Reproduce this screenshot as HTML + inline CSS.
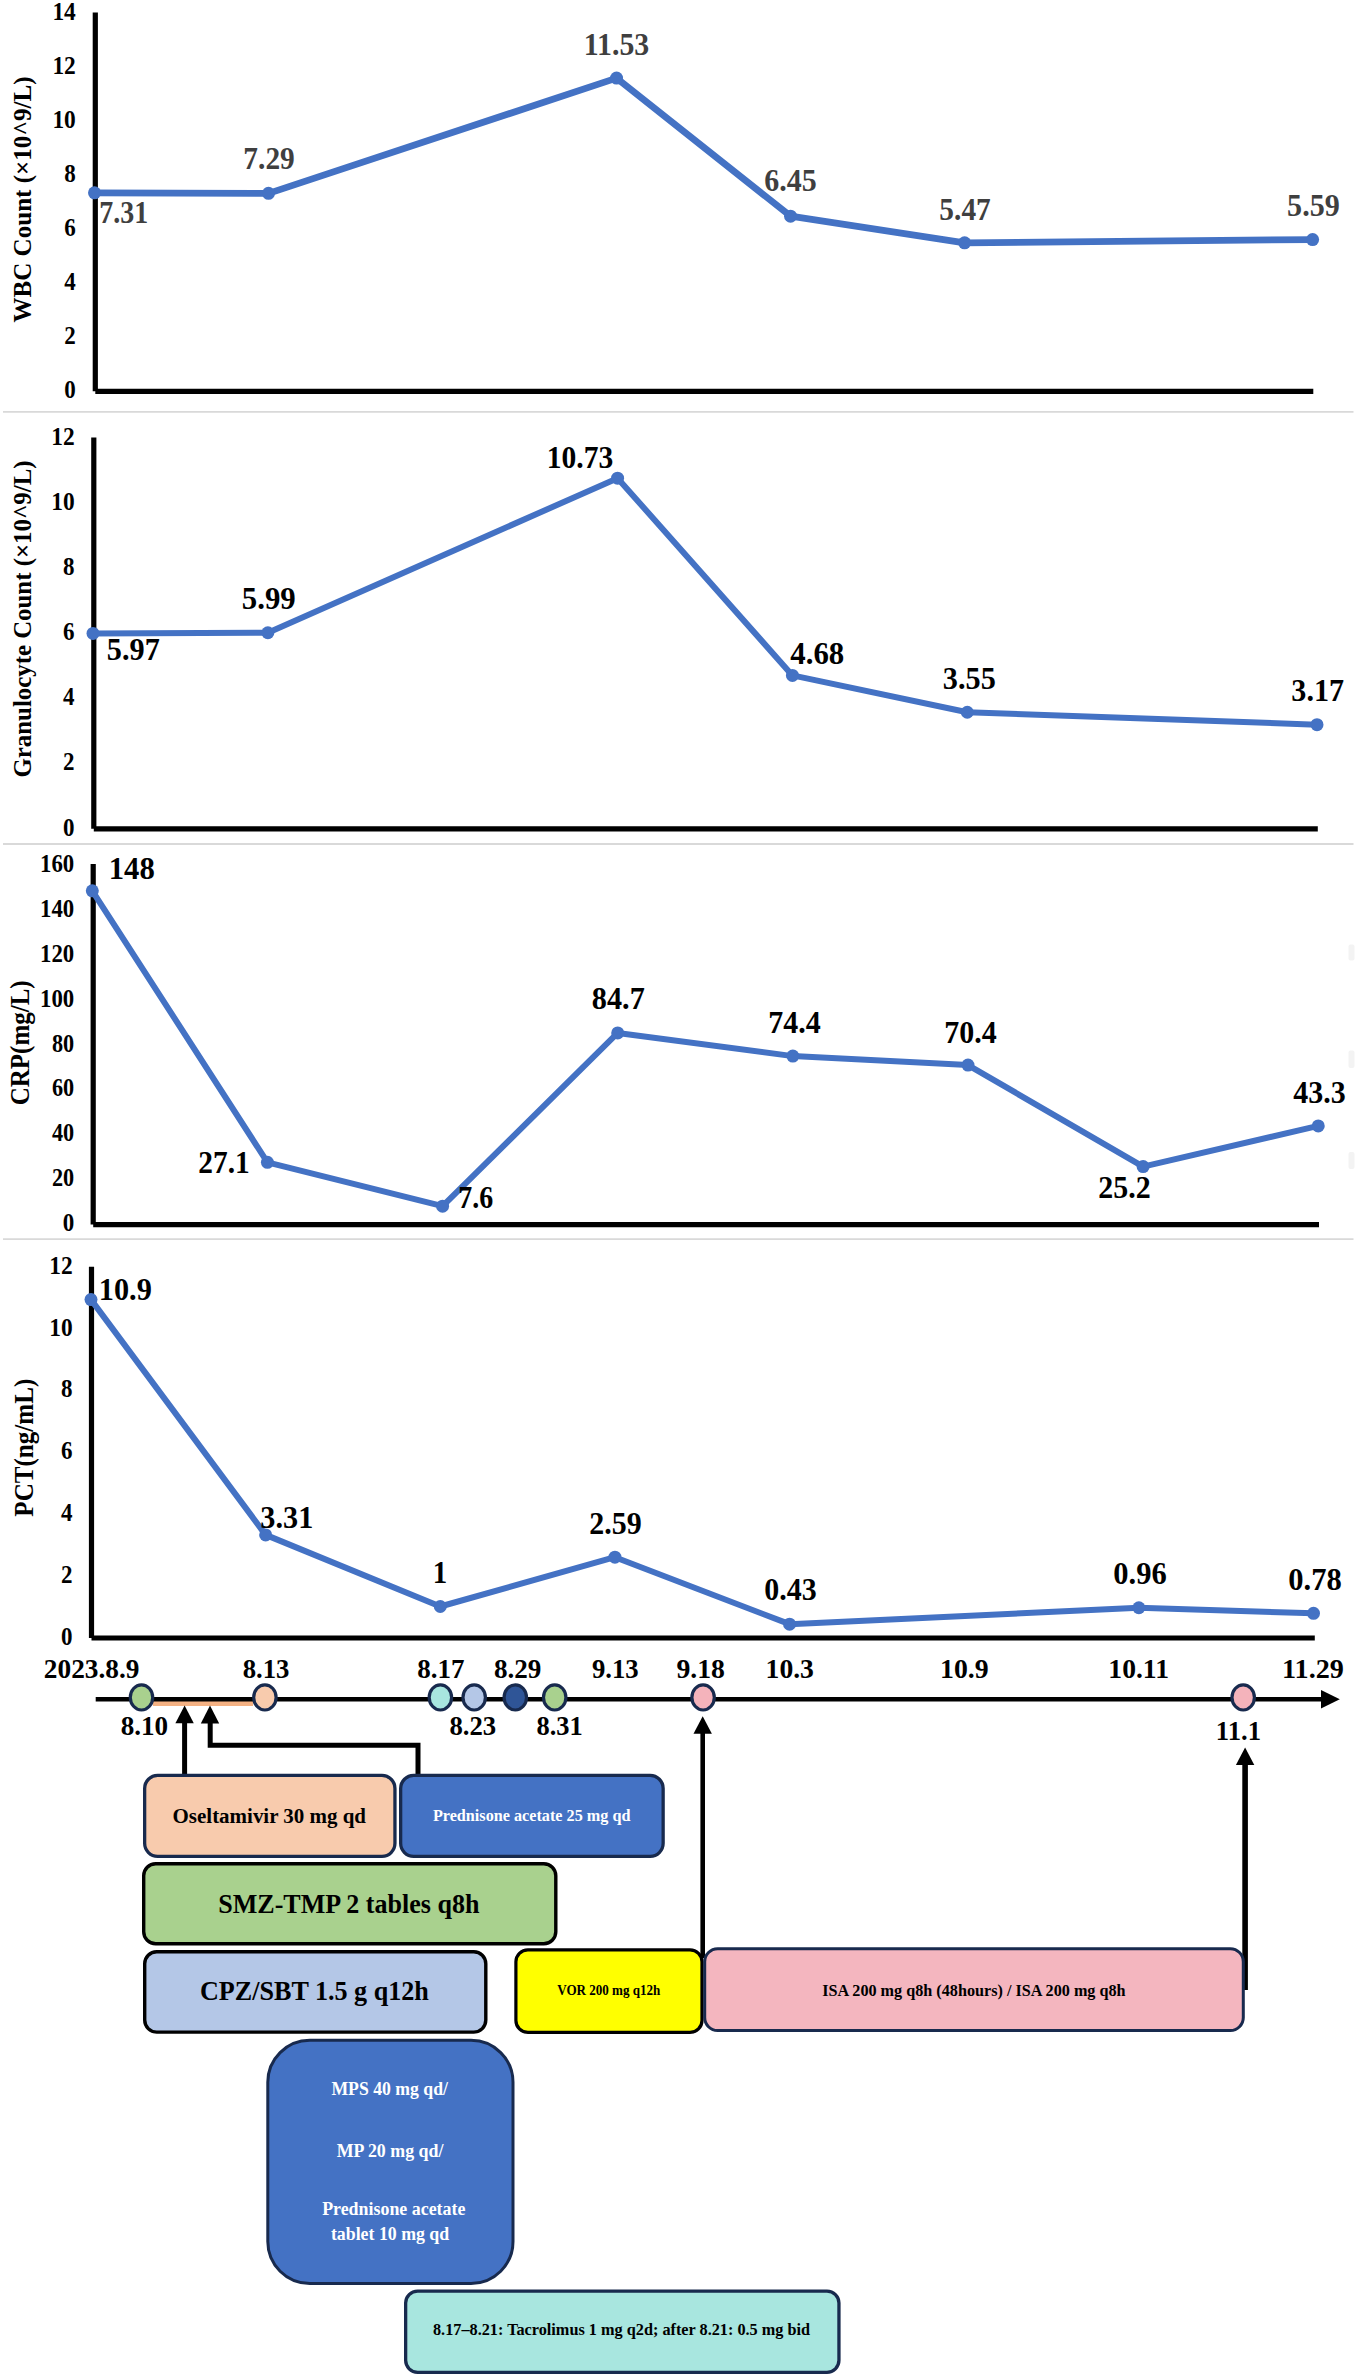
<!DOCTYPE html>
<html lang="en"><head><meta charset="utf-8"><title>Clinical course</title>
<style>html,body{margin:0;padding:0;background:#fff}svg{display:block}</style></head>
<body>
<svg width="1359" height="2379" viewBox="0 0 1359 2379" font-family="'Liberation Serif', serif" font-weight="bold">
<rect width="1359" height="2379" fill="#fff"/>
<path d="M3 411.8H1353.5" stroke="#d9d9d9" stroke-width="1.8" fill="none"/>
<path d="M3 844H1353.5" stroke="#d9d9d9" stroke-width="1.8" fill="none"/>
<path d="M3 1239.1H1353.5" stroke="#d9d9d9" stroke-width="1.8" fill="none"/>
<rect x="1348.5" y="944.6" width="6" height="15.9" rx="2" fill="#f3f3f3"/>
<rect x="1348.5" y="1050.5" width="6" height="17.5" rx="2" fill="#f3f3f3"/>
<rect x="1348.5" y="1152" width="6" height="17.0" rx="2" fill="#f3f3f3"/>
<path d="M95.30 12.60V391.30" stroke="#000" stroke-width="5.2" fill="none"/>
<path d="M95.30 391.30H1313.30" stroke="#000" stroke-width="5.2" fill="none"/>
<text x="64.31" y="397.70" font-size="24.5" fill="#000" textLength="11.50" lengthAdjust="spacingAndGlyphs">0</text>
<text x="64.31" y="343.70" font-size="24.5" fill="#000" textLength="11.50" lengthAdjust="spacingAndGlyphs">2</text>
<text x="64.31" y="289.70" font-size="24.5" fill="#000" textLength="11.50" lengthAdjust="spacingAndGlyphs">4</text>
<text x="64.31" y="235.70" font-size="24.5" fill="#000" textLength="11.50" lengthAdjust="spacingAndGlyphs">6</text>
<text x="64.31" y="181.70" font-size="24.5" fill="#000" textLength="11.50" lengthAdjust="spacingAndGlyphs">8</text>
<text x="52.39" y="127.70" font-size="24.5" fill="#000" textLength="23.43" lengthAdjust="spacingAndGlyphs">10</text>
<text x="52.39" y="73.70" font-size="24.5" fill="#000" textLength="23.43" lengthAdjust="spacingAndGlyphs">12</text>
<text x="52.39" y="19.70" font-size="24.5" fill="#000" textLength="23.43" lengthAdjust="spacingAndGlyphs">14</text>
<text transform="translate(31.40 199.50) rotate(-90)" font-size="26" text-anchor="middle" textLength="246" lengthAdjust="spacingAndGlyphs">WBC Count (×10^9/L)</text>
<path d="M94.50 192.81 L268.51 193.36 L616.54 78.11 L790.56 216.19 L964.57 242.83 L1312.60 239.56" stroke="#4472c4" stroke-width="6.8" fill="none" stroke-linejoin="round" stroke-linecap="round"/>
<circle cx="94.50" cy="192.81" r="6.5" fill="#4472c4"/>
<circle cx="268.51" cy="193.36" r="6.5" fill="#4472c4"/>
<circle cx="616.54" cy="78.11" r="6.5" fill="#4472c4"/>
<circle cx="790.56" cy="216.19" r="6.5" fill="#4472c4"/>
<circle cx="964.57" cy="242.83" r="6.5" fill="#4472c4"/>
<circle cx="1312.60" cy="239.56" r="6.5" fill="#4472c4"/>
<text x="99.37" y="222.50" font-size="31.4" fill="#3f3f3f" textLength="48.91" lengthAdjust="spacingAndGlyphs">7.31</text>
<text x="243.37" y="169.00" font-size="31.4" fill="#3f3f3f" textLength="51.41" lengthAdjust="spacingAndGlyphs">7.29</text>
<text x="583.80" y="55.00" font-size="31.4" fill="#3f3f3f" textLength="65.48" lengthAdjust="spacingAndGlyphs">11.53</text>
<text x="764.37" y="191.00" font-size="31.4" fill="#3f3f3f" textLength="52.41" lengthAdjust="spacingAndGlyphs">6.45</text>
<text x="939.37" y="220.00" font-size="31.4" fill="#3f3f3f" textLength="51.41" lengthAdjust="spacingAndGlyphs">5.47</text>
<text x="1287.12" y="216.25" font-size="31.4" fill="#3f3f3f" textLength="52.66" lengthAdjust="spacingAndGlyphs">5.59</text>
<path d="M93.80 437.50V828.80" stroke="#000" stroke-width="5.2" fill="none"/>
<path d="M93.80 828.80H1317.80" stroke="#000" stroke-width="5.2" fill="none"/>
<text x="63.11" y="835.50" font-size="24.5" fill="#000" textLength="11.50" lengthAdjust="spacingAndGlyphs">0</text>
<text x="63.11" y="770.38" font-size="24.5" fill="#000" textLength="11.50" lengthAdjust="spacingAndGlyphs">2</text>
<text x="63.11" y="705.26" font-size="24.5" fill="#000" textLength="11.50" lengthAdjust="spacingAndGlyphs">4</text>
<text x="63.11" y="640.14" font-size="24.5" fill="#000" textLength="11.50" lengthAdjust="spacingAndGlyphs">6</text>
<text x="63.11" y="575.02" font-size="24.5" fill="#000" textLength="11.50" lengthAdjust="spacingAndGlyphs">8</text>
<text x="51.19" y="509.90" font-size="24.5" fill="#000" textLength="23.43" lengthAdjust="spacingAndGlyphs">10</text>
<text x="51.19" y="444.78" font-size="24.5" fill="#000" textLength="23.43" lengthAdjust="spacingAndGlyphs">12</text>
<text transform="translate(31.40 619.00) rotate(-90)" font-size="26" text-anchor="middle" textLength="317" lengthAdjust="spacingAndGlyphs">Granulocyte Count (×10^9/L)</text>
<path d="M93.00 633.38 L267.86 632.73 L617.57 478.20 L792.43 675.43 L967.29 712.27 L1317.00 724.66" stroke="#4472c4" stroke-width="6" fill="none" stroke-linejoin="round" stroke-linecap="round"/>
<circle cx="93.00" cy="633.38" r="6.5" fill="#4472c4"/>
<circle cx="267.86" cy="632.73" r="6.5" fill="#4472c4"/>
<circle cx="617.57" cy="478.20" r="6.5" fill="#4472c4"/>
<circle cx="792.43" cy="675.43" r="6.5" fill="#4472c4"/>
<circle cx="967.29" cy="712.27" r="6.5" fill="#4472c4"/>
<circle cx="1317.00" cy="724.66" r="6.5" fill="#4472c4"/>
<text x="106.87" y="660.00" font-size="31.4" fill="#000" textLength="52.91" lengthAdjust="spacingAndGlyphs">5.97</text>
<text x="241.87" y="609.00" font-size="31.4" fill="#000" textLength="53.91" lengthAdjust="spacingAndGlyphs">5.99</text>
<text x="546.80" y="467.50" font-size="31.4" fill="#000" textLength="66.48" lengthAdjust="spacingAndGlyphs">10.73</text>
<text x="790.37" y="664.00" font-size="31.4" fill="#000" textLength="53.91" lengthAdjust="spacingAndGlyphs">4.68</text>
<text x="942.87" y="688.50" font-size="31.4" fill="#000" textLength="52.91" lengthAdjust="spacingAndGlyphs">3.55</text>
<text x="1291.37" y="701.00" font-size="31.4" fill="#000" textLength="52.61" lengthAdjust="spacingAndGlyphs">3.17</text>
<path d="M93.20 864.10V1224.60" stroke="#000" stroke-width="5.2" fill="none"/>
<path d="M93.20 1224.60H1319.00" stroke="#000" stroke-width="5.2" fill="none"/>
<text x="62.71" y="1231.20" font-size="24.5" fill="#000" textLength="11.50" lengthAdjust="spacingAndGlyphs">0</text>
<text x="52.01" y="1186.28" font-size="24.5" fill="#000" textLength="22.20" lengthAdjust="spacingAndGlyphs">20</text>
<text x="52.01" y="1141.36" font-size="24.5" fill="#000" textLength="22.20" lengthAdjust="spacingAndGlyphs">40</text>
<text x="52.01" y="1096.44" font-size="24.5" fill="#000" textLength="22.20" lengthAdjust="spacingAndGlyphs">60</text>
<text x="52.01" y="1051.52" font-size="24.5" fill="#000" textLength="22.20" lengthAdjust="spacingAndGlyphs">80</text>
<text x="40.08" y="1006.60" font-size="24.5" fill="#000" textLength="34.13" lengthAdjust="spacingAndGlyphs">100</text>
<text x="40.08" y="961.68" font-size="24.5" fill="#000" textLength="34.13" lengthAdjust="spacingAndGlyphs">120</text>
<text x="40.08" y="916.76" font-size="24.5" fill="#000" textLength="34.13" lengthAdjust="spacingAndGlyphs">140</text>
<text x="40.08" y="871.84" font-size="24.5" fill="#000" textLength="34.13" lengthAdjust="spacingAndGlyphs">160</text>
<text transform="translate(29.20 1042.80) rotate(-90)" font-size="26.5" text-anchor="middle" textLength="124.8" lengthAdjust="spacingAndGlyphs">CRP(mg/L)</text>
<path d="M92.30 890.79 L267.44 1162.33 L442.57 1206.13 L617.71 1032.96 L792.84 1056.10 L967.98 1065.08 L1143.11 1166.60 L1318.25 1125.95" stroke="#4472c4" stroke-width="6" fill="none" stroke-linejoin="round" stroke-linecap="round"/>
<circle cx="92.30" cy="890.79" r="6.5" fill="#4472c4"/>
<circle cx="267.44" cy="1162.33" r="6.5" fill="#4472c4"/>
<circle cx="442.57" cy="1206.13" r="6.5" fill="#4472c4"/>
<circle cx="617.71" cy="1032.96" r="6.5" fill="#4472c4"/>
<circle cx="792.84" cy="1056.10" r="6.5" fill="#4472c4"/>
<circle cx="967.98" cy="1065.08" r="6.5" fill="#4472c4"/>
<circle cx="1143.11" cy="1166.60" r="6.5" fill="#4472c4"/>
<circle cx="1318.25" cy="1125.95" r="6.5" fill="#4472c4"/>
<text x="108.80" y="879.00" font-size="31.4" fill="#000" textLength="45.98" lengthAdjust="spacingAndGlyphs">148</text>
<text x="198.37" y="1172.50" font-size="31.4" fill="#000" textLength="51.41" lengthAdjust="spacingAndGlyphs">27.1</text>
<text x="458.37" y="1207.50" font-size="31.4" fill="#000" textLength="34.91" lengthAdjust="spacingAndGlyphs">7.6</text>
<text x="591.87" y="1009.00" font-size="31.4" fill="#000" textLength="52.91" lengthAdjust="spacingAndGlyphs">84.7</text>
<text x="768.37" y="1032.50" font-size="31.4" fill="#000" textLength="52.41" lengthAdjust="spacingAndGlyphs">74.4</text>
<text x="944.37" y="1042.50" font-size="31.4" fill="#000" textLength="52.41" lengthAdjust="spacingAndGlyphs">70.4</text>
<text x="1098.37" y="1197.50" font-size="31.4" fill="#000" textLength="52.41" lengthAdjust="spacingAndGlyphs">25.2</text>
<text x="1293.37" y="1102.50" font-size="31.4" fill="#000" textLength="52.41" lengthAdjust="spacingAndGlyphs">43.3</text>
<path d="M91.50 1266.80V1638.00" stroke="#000" stroke-width="5.2" fill="none"/>
<path d="M91.50 1638.00H1314.80" stroke="#000" stroke-width="5.2" fill="none"/>
<text x="61.11" y="1644.60" font-size="24.5" fill="#000" textLength="11.50" lengthAdjust="spacingAndGlyphs">0</text>
<text x="61.11" y="1582.82" font-size="24.5" fill="#000" textLength="11.50" lengthAdjust="spacingAndGlyphs">2</text>
<text x="61.11" y="1521.04" font-size="24.5" fill="#000" textLength="11.50" lengthAdjust="spacingAndGlyphs">4</text>
<text x="61.11" y="1459.26" font-size="24.5" fill="#000" textLength="11.50" lengthAdjust="spacingAndGlyphs">6</text>
<text x="61.11" y="1397.48" font-size="24.5" fill="#000" textLength="11.50" lengthAdjust="spacingAndGlyphs">8</text>
<text x="49.19" y="1335.70" font-size="24.5" fill="#000" textLength="23.43" lengthAdjust="spacingAndGlyphs">10</text>
<text x="49.19" y="1273.92" font-size="24.5" fill="#000" textLength="23.43" lengthAdjust="spacingAndGlyphs">12</text>
<text transform="translate(32.90 1447.70) rotate(-90)" font-size="26.3" text-anchor="middle" textLength="138" lengthAdjust="spacingAndGlyphs">PCT(ng/mL)</text>
<path d="M91.00 1299.60 L265.64 1534.89 L440.29 1606.50 L614.93 1557.21 L789.57 1624.17 L1138.86 1607.74 L1313.50 1613.32" stroke="#4472c4" stroke-width="6" fill="none" stroke-linejoin="round" stroke-linecap="round"/>
<circle cx="91.00" cy="1299.60" r="6.5" fill="#4472c4"/>
<circle cx="265.64" cy="1534.89" r="6.5" fill="#4472c4"/>
<circle cx="440.29" cy="1606.50" r="6.5" fill="#4472c4"/>
<circle cx="614.93" cy="1557.21" r="6.5" fill="#4472c4"/>
<circle cx="789.57" cy="1624.17" r="6.5" fill="#4472c4"/>
<circle cx="1138.86" cy="1607.74" r="6.5" fill="#4472c4"/>
<circle cx="1313.50" cy="1613.32" r="6.5" fill="#4472c4"/>
<text x="98.80" y="1300.00" font-size="31.4" fill="#000" textLength="52.98" lengthAdjust="spacingAndGlyphs">10.9</text>
<text x="260.37" y="1527.50" font-size="31.4" fill="#000" textLength="52.91" lengthAdjust="spacingAndGlyphs">3.31</text>
<text x="432.80" y="1582.50" font-size="31.4" fill="#000" textLength="14.48" lengthAdjust="spacingAndGlyphs">1</text>
<text x="589.37" y="1533.50" font-size="31.4" fill="#000" textLength="52.41" lengthAdjust="spacingAndGlyphs">2.59</text>
<text x="764.37" y="1600.00" font-size="31.4" fill="#000" textLength="52.41" lengthAdjust="spacingAndGlyphs">0.43</text>
<text x="1113.37" y="1584.00" font-size="31.4" fill="#000" textLength="53.41" lengthAdjust="spacingAndGlyphs">0.96</text>
<text x="1288.37" y="1590.00" font-size="31.4" fill="#000" textLength="53.41" lengthAdjust="spacingAndGlyphs">0.78</text>
<path d="M153 1702.5H253" stroke="#f4b183" stroke-width="7" fill="none"/>
<path d="M95.7 1699.25H1324" stroke="#000" stroke-width="4.6" fill="none"/>
<path d="M1339.8 1699.25L1321 1689.95V1708.55Z" fill="#000"/>
<text x="43.85" y="1678.00" font-size="27.5" fill="#000" textLength="95.59" lengthAdjust="spacingAndGlyphs">2023.8.9</text>
<text x="242.70" y="1678.00" font-size="27.5" fill="#000" textLength="46.74" lengthAdjust="spacingAndGlyphs">8.13</text>
<text x="417.20" y="1678.00" font-size="27.5" fill="#000" textLength="47.24" lengthAdjust="spacingAndGlyphs">8.17</text>
<text x="493.95" y="1678.00" font-size="27.5" fill="#000" textLength="47.49" lengthAdjust="spacingAndGlyphs">8.29</text>
<text x="591.95" y="1678.00" font-size="27.5" fill="#000" textLength="46.74" lengthAdjust="spacingAndGlyphs">9.13</text>
<text x="676.45" y="1678.00" font-size="27.5" fill="#000" textLength="48.49" lengthAdjust="spacingAndGlyphs">9.18</text>
<text x="765.58" y="1678.00" font-size="27.5" fill="#000" textLength="48.36" lengthAdjust="spacingAndGlyphs">10.3</text>
<text x="940.08" y="1678.00" font-size="27.5" fill="#000" textLength="48.61" lengthAdjust="spacingAndGlyphs">10.9</text>
<text x="1108.33" y="1678.00" font-size="27.5" fill="#000" textLength="60.61" lengthAdjust="spacingAndGlyphs">10.11</text>
<text x="1282.08" y="1678.00" font-size="27.5" fill="#000" textLength="61.86" lengthAdjust="spacingAndGlyphs">11.29</text>
<text x="120.70" y="1735.40" font-size="27.5" fill="#000" textLength="47.49" lengthAdjust="spacingAndGlyphs">8.10</text>
<text x="449.45" y="1734.90" font-size="27.5" fill="#000" textLength="46.74" lengthAdjust="spacingAndGlyphs">8.23</text>
<text x="536.45" y="1734.90" font-size="27.5" fill="#000" textLength="46.24" lengthAdjust="spacingAndGlyphs">8.31</text>
<text x="1215.83" y="1740.40" font-size="27.5" fill="#000" textLength="45.11" lengthAdjust="spacingAndGlyphs">11.1</text>
<ellipse cx="141.5" cy="1697.4" rx="11.2" ry="12.6" fill="#a9d18e" stroke="#182a4e" stroke-width="3.2"/>
<ellipse cx="264.9" cy="1697.4" rx="11.2" ry="12.6" fill="#f8cbad" stroke="#182a4e" stroke-width="3.2"/>
<ellipse cx="440.4" cy="1697.4" rx="11.2" ry="12.6" fill="#a8e6df" stroke="#182a4e" stroke-width="3.2"/>
<ellipse cx="474.2" cy="1697.4" rx="11.2" ry="12.6" fill="#b4c7e7" stroke="#182a4e" stroke-width="3.2"/>
<ellipse cx="515.3" cy="1697.4" rx="11.2" ry="12.6" fill="#2f5597" stroke="#182a4e" stroke-width="3.2"/>
<ellipse cx="554.7" cy="1697.4" rx="11.2" ry="12.6" fill="#a9d18e" stroke="#182a4e" stroke-width="3.2"/>
<ellipse cx="703.1" cy="1697.4" rx="11.2" ry="12.6" fill="#f4b3bb" stroke="#182a4e" stroke-width="3.2"/>
<ellipse cx="1243.2" cy="1697.4" rx="11.2" ry="12.6" fill="#f4b3bb" stroke="#182a4e" stroke-width="3.2"/>
<path d="M184.6 1722.3V1776" stroke="#000" stroke-width="5.0" fill="none"/>
<path d="M184.6 1705.5L175.4 1723.3H193.79999999999998Z" fill="#000"/>
<path d="M210.2 1722V1745.2H418V1776" stroke="#000" stroke-width="5.0" fill="none" stroke-linejoin="miter"/>
<path d="M210 1705.5L200.8 1723.5H219.2Z" fill="#000"/>
<path d="M702.7 1732.8V1958" stroke="#000" stroke-width="4.6" fill="none"/>
<path d="M702.7 1716.2L693.5 1733.8H711.9000000000001Z" fill="#000"/>
<path d="M1245.1 1764V1990" stroke="#000" stroke-width="5.6" fill="none"/>
<path d="M1245.1 1747.5L1235.8999999999999 1765H1254.3Z" fill="#000"/>
<rect x="144.65" y="1775.45" width="250.30" height="80.90" rx="13" ry="13" fill="#f8cbad" stroke="#182a4e" stroke-width="3.3"/>
<text x="172.57" y="1822.50" font-size="21.3" fill="#000" textLength="193.46" lengthAdjust="spacingAndGlyphs">Oseltamivir 30 mg qd</text>
<rect x="400.65" y="1775.45" width="262.50" height="80.90" rx="13" ry="13" fill="#4472c4" stroke="#182a4e" stroke-width="3.3"/>
<text x="432.92" y="1821.30" font-size="16.6" fill="#fff" textLength="197.50" lengthAdjust="spacingAndGlyphs">Prednisone acetate 25 mg qd</text>
<rect x="143.70" y="1863.70" width="412.10" height="80.10" rx="12" ry="12" fill="#a9d18e" stroke="#000" stroke-width="3.4"/>
<text x="218.22" y="1912.50" font-size="26.5" fill="#000" textLength="261.19" lengthAdjust="spacingAndGlyphs">SMZ-TMP 2 tables q8h</text>
<rect x="144.70" y="1951.70" width="341.10" height="80.40" rx="12" ry="12" fill="#b4c7e7" stroke="#000" stroke-width="3.4"/>
<text x="199.96" y="2000.30" font-size="26.8" fill="#000" textLength="228.91" lengthAdjust="spacingAndGlyphs">CPZ/SBT 1.5 g q12h</text>
<rect x="515.90" y="1949.80" width="186.10" height="82.60" rx="12" ry="12" fill="#ffff00" stroke="#000" stroke-width="3.2"/>
<text x="557.23" y="1995.40" font-size="13.6" fill="#000" textLength="103.11" lengthAdjust="spacingAndGlyphs">VOR 200 mg q12h</text>
<rect x="704.70" y="1948.70" width="538.60" height="81.80" rx="13" ry="13" fill="#f4b6bf" stroke="#182a4e" stroke-width="3"/>
<text x="822.18" y="1996.30" font-size="16.2" fill="#000" textLength="303.43" lengthAdjust="spacingAndGlyphs">ISA 200 mg q8h (48hours) / ISA 200 mg q8h</text>
<rect x="267.80" y="2040.30" width="245.20" height="243.20" rx="42" ry="42" fill="#4472c4" stroke="#182a4e" stroke-width="3"/>
<text x="331.39" y="2094.50" font-size="18" fill="#fff" textLength="116.56" lengthAdjust="spacingAndGlyphs">MPS 40 mg qd/</text>
<text x="336.64" y="2157.00" font-size="18" fill="#fff" textLength="106.81" lengthAdjust="spacingAndGlyphs">MP 20 mg qd/</text>
<text x="322.14" y="2214.50" font-size="18" fill="#fff" textLength="143.31" lengthAdjust="spacingAndGlyphs">Prednisone acetate</text>
<text x="330.89" y="2240.00" font-size="18" fill="#fff" textLength="118.31" lengthAdjust="spacingAndGlyphs">tablet 10 mg qd</text>
<rect x="405.65" y="2291.05" width="433.30" height="81.30" rx="12" ry="12" fill="#a8e6df" stroke="#182a4e" stroke-width="3.3"/>
<text x="432.98" y="2335.40" font-size="16.2" fill="#000" textLength="377.13" lengthAdjust="spacingAndGlyphs">8.17–8.21: Tacrolimus 1 mg q2d; after 8.21: 0.5 mg bid</text>
</svg>
</body></html>
